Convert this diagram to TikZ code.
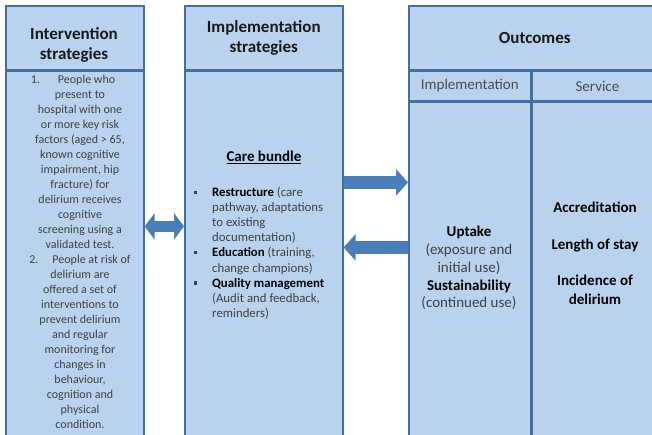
\documentclass[tikz,border=0pt]{standalone}
\usepackage{fontspec}
\setmainfont{Carlito}
\usetikzlibrary{arrows.meta,positioning}
\definecolor{boxfill}{HTML}{B9D3EE}
\definecolor{boxline}{HTML}{41709F}
\definecolor{arrowfill}{HTML}{4A7EBB}
\definecolor{bodytext}{HTML}{404040}
\newcommand\kw[1]{\textcolor{black}{\textbf{#1}}}
\newcommand\sqb{\makebox[18.5pt][l]{\rule[2.5pt]{3.5pt}{3.5pt}}}
\newcommand\ind{\hspace*{18.5pt}}
\tikzset{
  cell/.style={draw=boxline, fill=boxfill, line width=1.6pt, inner sep=0pt, anchor=north west},
  head/.style={font=\fontsize{17}{20.5}\selectfont\bfseries, align=center, text=black!90},
  subhead/.style={font=\fontsize{15}{18}\selectfont, text=black!70},
  body/.style={font=\fontsize{12}{15}\selectfont, text=bodytext, inner sep=0pt},
  outtext/.style={font=\fontsize{15}{17.8}\selectfont, text=bodytext, align=center, inner sep=0pt},
  block/.style={arrowfill, line width=13pt, -{Triangle[length=12pt,width=26pt]}},
  dblock/.style={arrowfill, line width=11pt, {Triangle[length=10pt,width=26pt]}-{Triangle[length=10pt,width=26pt]}},
}

\begin{document}
\begin{tikzpicture}[x=1pt,y=-1pt]
\useasboundingbox (0,0) rectangle (652,434);
\clip (0,0) rectangle (652,434);

% three columns, running off the page at the bottom
\node[cell, minimum width=138pt, minimum height=64pt] (ihead) at (5,5) {};
\node[cell, minimum width=138pt, minimum height=376pt] (ibody) at (ihead.south west) {};
\node[cell, minimum width=158pt, minimum height=64pt] (mhead) at (184,5) {};
\node[cell, minimum width=158pt, minimum height=376pt] (mbody) at (mhead.south west) {};
\node[cell, minimum width=252pt, minimum height=64pt] (ohead) at (408,5) {};
\node[cell, minimum width=122pt, minimum height=29pt] (oimplhead) at (ohead.south west) {};
\node[cell, minimum width=130pt, minimum height=29pt] (osvchead) at (oimplhead.north east) {};
\node[cell, minimum width=122pt, minimum height=347pt] (oimpl) at (oimplhead.south west) {};
\node[cell, minimum width=130pt, minimum height=347pt] (osvc) at (oimpl.north east) {};

% headings
\node[head] (ititle) at (74,45) {Intervention\\strategies};
\node[head] (mtitle) at (mhead.center) {Implementation\\strategies};
\node[head] (otitle) at (ohead.center) {Outcomes};
\node[subhead] at (oimplhead.center) {Implementation};
\node[subhead] at (osvchead.center) {Service};

% intervention list
\node[body, align=center, anchor=north] (ilist) at (80,75) {
1.\hspace{18pt}People who\hspace*{14pt}\\present to\\hospital with one\\or more key risk\\
factors (aged > 65,\\known cognitive\\impairment, hip\\fracture) for\\
delirium receives\\cognitive\\screening using a\\validated test.\\
2.\hspace{14pt}People at risk of\hspace*{6pt}\\delirium are\\offered a set of\\interventions to\\
prevent delirium\\and regular\\monitoring for\\changes in\\behaviour,\\
cognition and\\physical\\condition.};

% care bundle
\node[font=\fontsize{15}{18}\selectfont\bfseries, inner sep=0pt] (bundle) at (264,157) {\underline{Care bundle}};
\node[body, font=\fontsize{12.8}{15.1}\selectfont, align=left, anchor=north west] (blist) at (193.5,187) {
\sqb\kw{Restructure} (care\\\ind pathway, adaptations\\\ind to existing\\\ind documentation)\\
\sqb\kw{Education} (training,\\\ind change champions)\\
\sqb\kw{Quality management}\\\ind (Audit and feedback,\\\ind reminders)};

% outcome measures
\node[outtext] (uptake) at (469,268) {\kw{Uptake}\\(exposure and\\initial use)\\\kw{Sustainability}\\(continued use)};
\node[outtext, font=\fontsize{15}{18.4}\selectfont\bfseries, text=black] (service) at (595,253)
  {Accreditation\\[18.4pt]Length of stay\\[18.4pt]Incidence of\\delirium};

% arrows between the columns
\coordinate (link) at ([yshift=33pt]mbody.west);
\coordinate (fwd) at ([yshift=77pt]mbody.east);
\coordinate (back) at ([yshift=12pt]mbody.east);
\draw[dblock] (link -| ibody.east) -- (link);
\draw[block] (fwd) -- (fwd -| oimpl.west);
\draw[block] (back -| oimpl.west) -- (back);
\end{tikzpicture}
\end{document}
